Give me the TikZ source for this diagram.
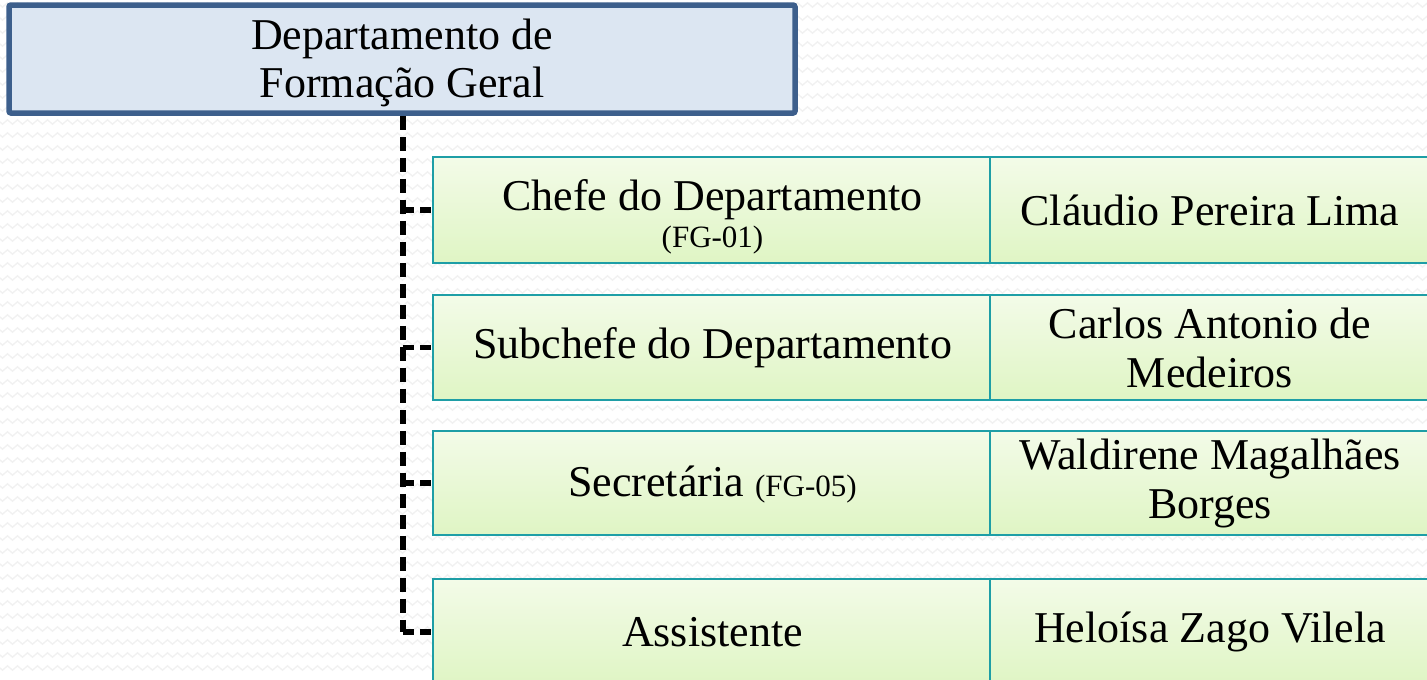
\documentclass[tikz,border=0pt]{standalone}
\usepackage{fontspec}
\setmainfont{Liberation Serif}
\usetikzlibrary{decorations.pathmorphing}
\definecolor{deptfill}{HTML}{DCE6F2}
\definecolor{deptborder}{HTML}{3D5F8C}
\definecolor{rowborder}{HTML}{1E9EA6}
\definecolor{rowtop}{HTML}{F3FBE8}
\definecolor{rowbot}{HTML}{DFF5C4}
\definecolor{bgpat}{HTML}{F1F1F1}
\tikzset{
  bigfont/.style={font=\fontsize{44}{49}\selectfont},
  deptbox/.style={draw=deptborder, fill=deptfill, line width=5.5pt, rounded corners=2pt,
    align=center, bigfont, inner sep=0pt},
  cellbox/.style={draw=rowborder, line width=2.6pt, top color=rowtop, bottom color=rowbot,
    align=center, bigfont, inner sep=0pt},
  conn/.style={draw=black, line width=5.5pt, dash pattern=on 14pt off 7pt},
  stub/.style={draw=black, line width=5.5pt, dash pattern=on 11pt off 6pt},
  bgline/.style={draw=bgpat, line width=1.3pt, decorate,
    decoration={zigzag, segment length=10pt, amplitude=2.2pt}}
}
\newcommand{\smallfg}[1]{{\fontsize{31}{34}\selectfont #1}}
\newcommand{\shiftdown}[2]{\raisebox{-#1}[\height][\depth]{\begin{tabular}{@{}c@{}}#2\end{tabular}}}
\begin{document}
\begin{tikzpicture}[x=1pt,y=-1pt]
\useasboundingbox (0,0) rectangle (1427,680);
\clip (0,0) rectangle (1427,680);
\fill[white] (0,0) rectangle (1427,680);
\foreach \yy in {5,18,...,680} {
  \draw[bgline] (-5,\yy) -- (1432,\yy);
}
% department box
\node[deptbox, minimum width=786pt, minimum height=108pt] (dept) at (402,59)
  {\shiftdown{5pt}{Departamento de\\[-1pt]Formação Geral}};
% rows
\node[cellbox, minimum width=559pt, minimum height=106pt] (r1a) at (712.5,210)
  {\shiftdown{9pt}{Chefe do Departamento\\[-12pt]\smallfg{(FG-01)}}};
\node[cellbox, minimum width=440pt, minimum height=106pt] (r1b) at (1210,210)
  {Cláudio Pereira Lima};
\node[cellbox, minimum width=559pt, minimum height=105pt] (r2a) at (712.5,347.5)
  {Subchefe do Departamento};
\node[cellbox, minimum width=440pt, minimum height=105pt] (r2b) at (1210,347.5)
  {Carlos Antonio de\\Medeiros};
\node[cellbox, minimum width=559pt, minimum height=104pt] (r3a) at (712.5,483)
  {\shiftdown{4pt}{Secretária \smallfg{(FG-05)}}};
\node[cellbox, minimum width=440pt, minimum height=104pt] (r3b) at (1210,483)
  {Waldirene Magalhães\\Borges};
\node[cellbox, minimum width=559pt, minimum height=106pt] (r4a) at (712.5,632)
  {Assistente};
\node[cellbox, minimum width=440pt, minimum height=106pt] (r4b) at (1210,632)
  {Heloísa Zago Vilela};
% connectors
\coordinate (top) at ([xshift=1pt]dept.south);
\draw[conn] (top) -- (top |- r4a.west);
\foreach \r in {r1a,r2a,r3a,r4a} {
  \draw[stub] (top |- \r.west) -- (\r.west);
}
\end{tikzpicture}
\end{document}
